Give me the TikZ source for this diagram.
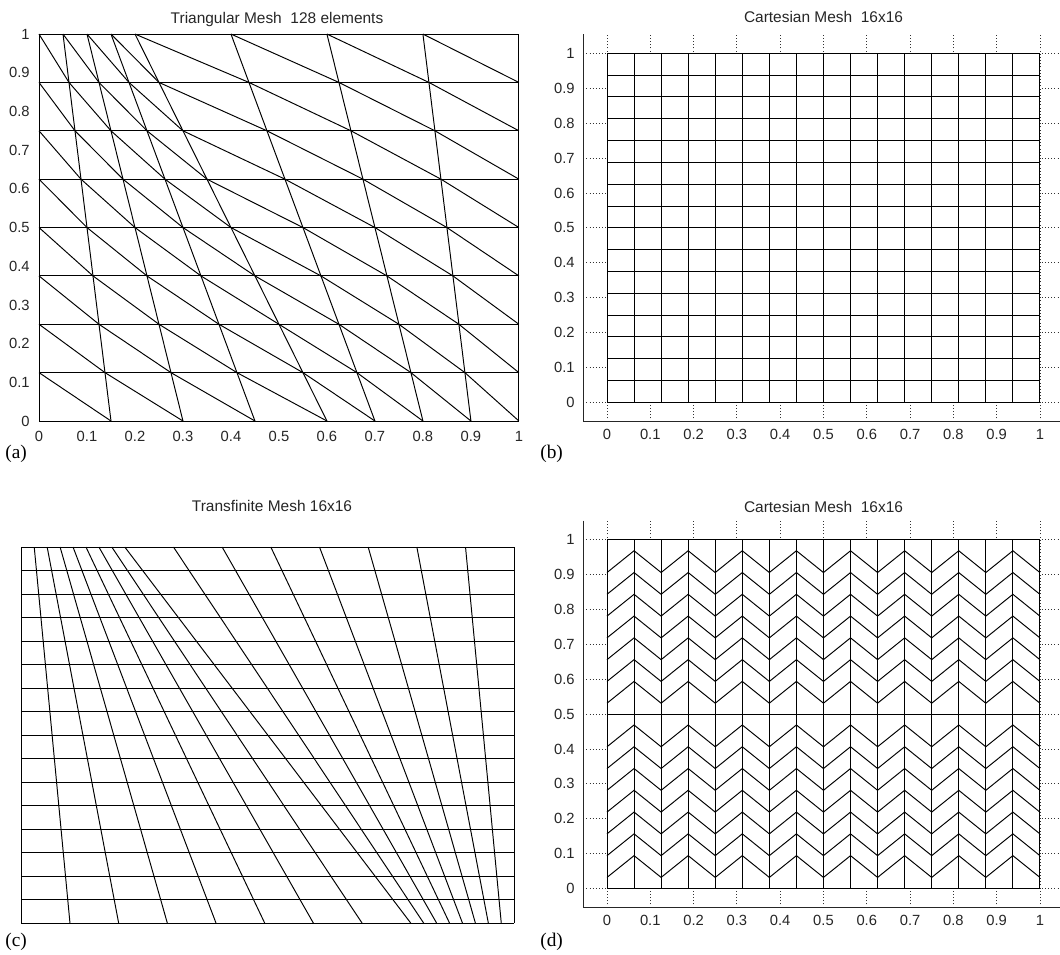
\documentclass[tikz,border=0pt]{standalone}
\usepackage{fontspec}
\setmainfont{Liberation Serif}
\setsansfont{Liberation Sans}
\begin{document}
\begin{tikzpicture}[x=0.02cm,y=-0.02cm,
    mesh/.style={line width=0.55pt,black},
    gridln/.style={line width=0.45pt,black!80,dash pattern=on 0.5pt off 1.3pt},
    axisln/.style={line width=0.6pt,black!85},
    ticklab/.style={inner sep=0pt,text=black!85,font=\sffamily\fontsize{8.4}{10}\selectfont},
    ttl/.style={inner sep=0pt,anchor=base,text=black!85,font=\sffamily\fontsize{8.8}{10}\selectfont},
    tag/.style={inner sep=0pt,anchor=base west,font=\rmfamily\fontsize{11}{13}\selectfont}]
    \useasboundingbox (0,0) rectangle (1060,955);

    % (a) Triangular mesh
    \node[ttl] (ttla) at (277,23.3) {Triangular Mesh\ \ 128 elements};
    \begin{scope}[shift={(39,421)},x=9.6cm,y=7.74cm]
      \def\topa{{0,0.05,0.1,0.15,0.2,0.4,0.6,0.8,1}}
      \def\bota{{0,0.15,0.3,0.45,0.6,0.7,0.8,0.9,1}}
      \foreach \j in {0,...,8}
        \draw[mesh] (0,\j/8) -- (1,\j/8);
      \foreach \i in {0,...,8}
        \draw[mesh] ({\bota[\i]},0) -- ({\topa[\i]},1);
      % diagonals, top left to bottom right
      \foreach \i in {0,...,7}
        \foreach \j in {0,...,7} {
          \pgfmathsetmacro{\xs}{(7-\j)/8*\bota[\i]+(\j+1)/8*\topa[\i]}
          \pgfmathsetmacro{\xe}{(8-\j)/8*\bota[\i+1]+\j/8*\topa[\i+1]}
          \draw[mesh] (\xs,{(\j+1)/8}) -- (\xe,\j/8);
        }
      \foreach \lab [count=\k from 0] in {0,0.1,0.2,0.3,0.4,0.5,0.6,0.7,0.8,0.9,1} {
        \node[ticklab,anchor=east,xshift=-0.18cm] (ya\k) at (0,\k/10) {\lab};
        \node[ticklab,anchor=base,yshift=-0.41cm] (xa\k) at (\k/10,0) {\lab};
      }
    \end{scope}
    \node[tag] (taga) at (5,459) {(a)};

    % (b) Cartesian mesh
    \node[ttl] (ttlb) at (823.5,23) {Cartesian Mesh\ \ 16x16};
    \begin{scope}[shift={(607,402.3)},x=8.66cm,y=6.98cm]
      \foreach \k in {0,...,10} {
        \draw[gridln] (\k/10,-0.055) -- (\k/10,1.055);
        \draw[gridln] (-0.055,\k/10) -- (1.046,\k/10);
      }
      \fill[white] (0,0) rectangle (1,1);
      \foreach \k in {0,...,16} {
        \draw[mesh] (\k/16,0) -- (\k/16,1);
        \draw[mesh] (0,\k/16) -- (1,\k/16);
      }
      \draw[axisln] (-0.055,1.055) -- (-0.055,-0.055) -- (1.046,-0.055);
      \foreach \lab [count=\k from 0] in {0,0.1,0.2,0.3,0.4,0.5,0.6,0.7,0.8,0.9,1} {
        \node[ticklab,anchor=east,xshift=-0.64cm] (yb\k) at (0,\k/10) {\lab};
        \node[ticklab,anchor=base,yshift=-0.74cm] (xb\k) at (\k/10,0) {\lab};
      }
    \end{scope}
    \node[tag] (tagb) at (540,459) {(b)};

    % (c) Transfinite mesh
    \node[ttl] (ttlc) at (272,511.7) {Transfinite Mesh 16x16};
    \begin{scope}[shift={(21.3,923)},x=9.86cm,y=7.52cm]
      \foreach \j in {0,...,16}
        \draw[mesh] (0,\j/16) -- (1,\j/16);
      \foreach \i in {0,...,16} {
        \pgfmathsetmacro{\xb}{0.79*min(\i,8)/8+0.21*max(\i-8,0)/8}
        \pgfmathsetmacro{\xt}{0.21*min(\i,8)/8+0.79*max(\i-8,0)/8}
        \draw[mesh] (\xb,0) -- (\xt,1);
      }
    \end{scope}
    \node[tag] (tagc) at (5,946) {(c)};

    % (d) Cartesian mesh, zigzag
    \node[ttl] (ttld) at (823.5,512) {Cartesian Mesh\ \ 16x16};
    \begin{scope}[shift={(607,888.3)},x=8.66cm,y=6.97cm]
      \foreach \k in {0,...,10} {
        \draw[gridln] (\k/10,-0.055) -- (\k/10,1.055);
        \draw[gridln] (-0.055,\k/10) -- (1.046,\k/10);
      }
      \fill[white] (0,0) rectangle (1,1);
      \foreach \k in {0,...,16}
        \draw[mesh] (\k/16,0) -- (\k/16,1);
      \foreach \h in {0,0.5,1}
        \draw[mesh] (0,\h) -- (1,\h);
      \foreach \h in {0,0.5}
        \foreach \k in {0,...,6} {
          \pgfmathsetmacro{\yz}{\h+(\k+0.5)/16}
          \draw[mesh] (0,\yz) \foreach \i in {1,...,16} { -- (\i/16,{\yz+mod(\i,2)/16}) };
        }
      \draw[axisln] (-0.055,1.055) -- (-0.055,-0.055) -- (1.046,-0.055);
      \foreach \lab [count=\k from 0] in {0,0.1,0.2,0.3,0.4,0.5,0.6,0.7,0.8,0.9,1} {
        \node[ticklab,anchor=east,xshift=-0.64cm] (yd\k) at (0,\k/10) {\lab};
        \node[ticklab,anchor=base,yshift=-0.74cm] (xd\k) at (\k/10,0) {\lab};
      }
    \end{scope}
    \node[tag] (tagd) at (540,946) {(d)};
\end{tikzpicture}
\end{document}
